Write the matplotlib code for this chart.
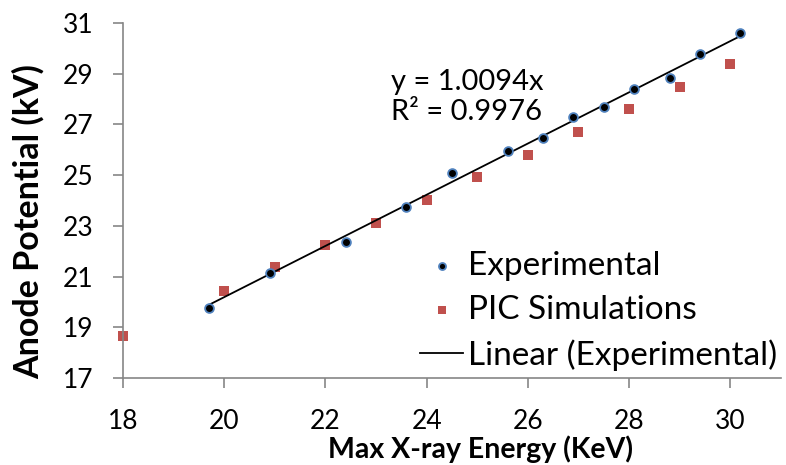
import numpy as np
import matplotlib
matplotlib.use("Agg")
from matplotlib import pyplot as plt

# experimental points (max x-ray energy vs anode potential)
exp_energy = [19.7, 20.9, 22.4, 23.6, 24.5, 25.6, 26.3, 26.9, 27.5, 28.1, 28.8, 29.4, 30.2]
exp_potential = [19.77, 21.13, 22.35, 23.73, 25.1, 25.94, 26.46, 27.28, 27.7, 28.41, 28.82, 29.76, 30.59]

# PIC simulation points
pic_energy = [18, 20, 21, 22, 23, 24, 25, 26, 27, 28, 29, 30]
pic_potential = [18.66, 20.44, 21.36, 22.23, 23.12, 24.02, 24.93, 25.8, 26.7, 27.6, 28.49, 29.37]

fit_label = "y = 1.0094x\nR² = 0.9976"
x_ticks = [18, 20, 22, 24, 26, 28, 30]
y_ticks = [17, 19, 21, 23, 25, 27, 29, 31]

plt.rcParams['font.family'] = ['Lato', 'DejaVu Sans']

fig = plt.figure(figsize=(7.86, 4.65), dpi=100)
ax = fig.add_axes([0.1565, 0.187, 0.837, 0.7635])

# linear fit through the origin, like the spreadsheet trendline
xe = np.array(exp_energy)
ye = np.array(exp_potential)
slope = np.sum(xe * ye) / np.sum(xe * xe)
xfit = np.array([xe.min(), xe.max()])

ax.scatter(exp_energy, exp_potential, s=40, color="black", edgecolors="#4f81bd",
           linewidths=1.3, zorder=3, label="Experimental", clip_on=False)
ax.scatter(pic_energy, pic_potential, s=62, marker="s", color="#c0504d",
           linewidths=0, zorder=2, label="PIC Simulations", clip_on=False)
ax.plot(xfit, slope * xfit, color="black", lw=1.3, zorder=2.5, label="Linear (Experimental)")

# trendline equation, placed in pixel coordinates
ax.text(391, 465 - 97, fit_label, transform=matplotlib.transforms.IdentityTransform(),
        fontsize=21, va="center", ha="left", linespacing=1.15)

ax.set_xlim(18, 31)
ax.set_ylim(17, 31)
ax.set_xticks(x_ticks)
ax.set_yticks(y_ticks)
ax.tick_params(direction="out", length=7, width=1.2, color="#868686", labelsize=19)
ax.tick_params(axis="y", pad=14)
ax.tick_params(axis="x", pad=15)
for side in ["top", "right"]:
    ax.spines[side].set_visible(False)
for side in ["left", "bottom"]:
    ax.spines[side].set_color("#868686")
    ax.spines[side].set_linewidth(1.2)

ax.set_xlabel("Max X-ray Energy (KeV)", fontsize=20.5, fontweight="bold", labelpad=0)
ax.xaxis.set_label_coords(0.543, -0.2)
ax.xaxis.label.set_va("center")
ax.set_ylabel("Anode Potential (kV)", fontsize=24.5, fontweight="bold")
ax.yaxis.set_label_coords(-0.144, 0.442)
ax.yaxis.label.set_va("center")

ax.legend(loc="lower right", bbox_to_anchor=(1.015, -0.018), frameon=False, fontsize=24,
          handlelength=1.3, handletextpad=0.15, labelspacing=0.43, borderaxespad=0.0,
          markerscale=0.8)

fig.savefig("out.png", dpi=100)
